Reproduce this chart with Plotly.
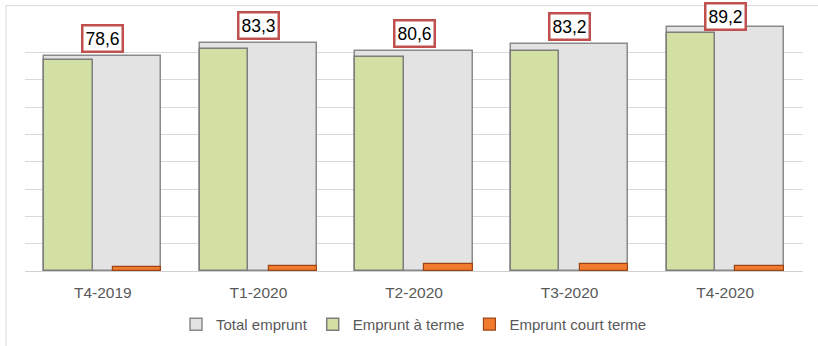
import plotly.graph_objects as go

# Quarterly borrowing figures
categories = ["T4-2019", "T1-2020", "T2-2020", "T3-2020", "T4-2020"]
total_emprunt = [78.6, 83.3, 80.6, 83.2, 89.2]
emprunt_terme = [77.3, 81.4, 78.2, 80.6, 87.2]
emprunt_court = [1.3, 1.9, 2.4, 2.6, 2.0]

FONT = "Liberation Sans, Arial, Helvetica, sans-serif"
TEXT_GREY = "#595959"

fig = go.Figure()

# Wide total bar sits behind the two component bars
fig.add_trace(go.Bar(
    x=categories, y=total_emprunt, name="Total emprunt",
    width=0.752, offset=-0.376,
    marker=dict(color="#e4e3e3", line=dict(color="#8a8a8a", width=1.5)),
))
fig.add_trace(go.Bar(
    x=categories, y=emprunt_terme, name="Emprunt à terme",
    width=0.31, offset=-0.376,
    marker=dict(color="#d2e0a3", line=dict(color="#7d7d7d", width=1.5)),
))
fig.add_trace(go.Bar(
    x=categories, y=emprunt_court, name="Emprunt court terme",
    width=0.31, offset=0.066,
    marker=dict(color="#f07b2c", line=dict(color="#9c4516", width=1.2)),
))

# Boxed value labels above each total bar
for cat, val in zip(categories, total_emprunt):
    fig.add_annotation(
        x=cat, y=val, xref="x", yref="y",
        text=f"{val:.1f}".replace(".", ","),
        showarrow=False, yanchor="bottom",
        yshift=3 if val < 86 else -4,
        font=dict(family=FONT, size=17.5, color="#000000"),
        bgcolor="#ffffff", bordercolor="#c0504d", borderwidth=2.5, borderpad=2,
    )

# Thin frame along the top and left of the chart area
fig.add_shape(type="line", xref="paper", yref="paper",
              x0=-0.0244, x1=1.03, y0=1.079, y1=1.079,
              line=dict(color="#d9d9d9", width=1))
fig.add_shape(type="line", xref="paper", yref="paper",
              x0=-0.0244, x1=-0.0244, y0=1.079, y1=-0.31,
              line=dict(color="#d9d9d9", width=1))

fig.update_layout(
    width=818, height=346,
    margin=dict(l=25, r=15, t=24.5, b=74.5, autoexpand=False),
    paper_bgcolor="#ffffff", plot_bgcolor="#ffffff",
    barmode="overlay", bargap=0,
    showlegend=True,
    legend=dict(
        orientation="h", x=0.5, xanchor="center", y=-0.217, yanchor="middle",
        font=dict(family=FONT, size=15, color=TEXT_GREY),
        itemwidth=30, traceorder="normal",
    ),
    font=dict(family=FONT, color=TEXT_GREY),
)
fig.update_xaxes(
    type="category", showgrid=False, showline=True,
    linecolor="#d0d0d0", linewidth=1,
    tickfont=dict(family=FONT, size=15.5, color=TEXT_GREY), ticks="",
    ticklabelstandoff=7,
)
fig.update_yaxes(
    range=[0, 90], dtick=10, showticklabels=False,
    showgrid=True, gridcolor="#d9d9d9", gridwidth=1,
    zeroline=False, showline=False,
)

fig.write_html("out.html")
